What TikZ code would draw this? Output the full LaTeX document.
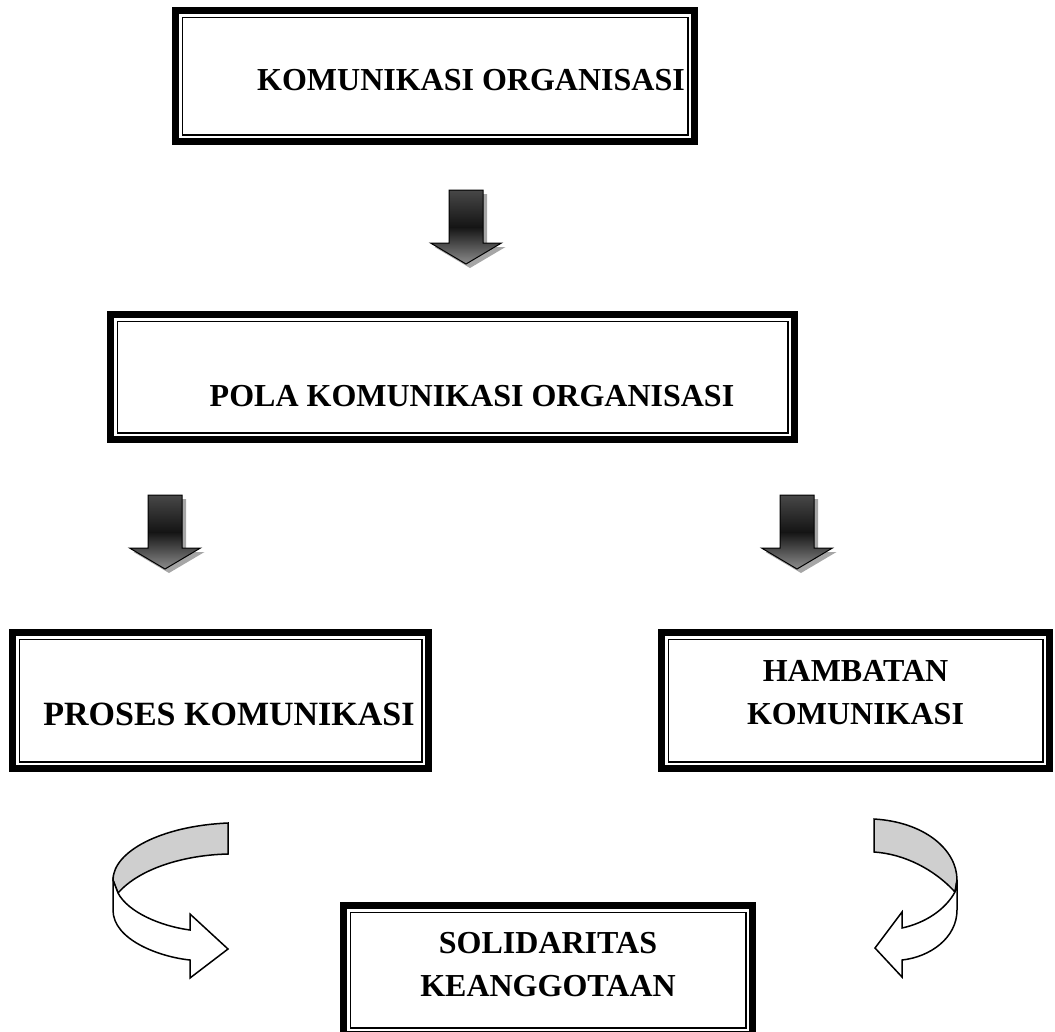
\documentclass[tikz,border=0pt]{standalone}
\usepackage{fontspec}
\setmainfont{Liberation Serif}
\usetikzlibrary{calc}
\tikzset{
  frame/.style={draw=none, inner sep=0pt,
    path picture={
      \draw[line width=7pt]
        ([xshift=3.5pt,yshift=3.5pt]path picture bounding box.south west) rectangle
        ([xshift=-3.5pt,yshift=-3.5pt]path picture bounding box.north east);
      \draw[line width=1.6pt]
        ([xshift=10.3pt,yshift=10.3pt]path picture bounding box.south west) rectangle
        ([xshift=-10.3pt,yshift=-10.3pt]path picture bounding box.north east);
    }},
  lbl/.style={font=\bfseries\fontsize{32}{43}\selectfont, align=center, inner sep=0pt},
  arrowshadow/.style={fill=black!35},
  arrowbody/.style={draw=black, line width=1pt, top color=black!72, bottom color=black!45, middle color=black!92},
  ribbonback/.style={draw=black, line width=1.5pt, fill=black!19},
  ribbonfront/.style={draw=black, line width=1.5pt, fill=white}
}
\newcommand\downblock[1]{%
  \begin{scope}[shift={#1}]
    \fill[arrowshadow] (-14,4) -- (21,4) -- (21,57) -- (39.5,57) -- (4,78) -- (-31.5,57) -- (-14,57) -- cycle;
    \path[arrowbody] (-17,0) -- (17,0) -- (17,53) -- (35.5,53) -- (0,74) -- (-35.5,53) -- (-17,53) -- cycle;
  \end{scope}}
\begin{document}
\begin{tikzpicture}[x=1pt,y=-1pt]
\useasboundingbox (0,0) rectangle (1055,1031);
\clip (0,0) rectangle (1055,1031);

% boxes
\node[frame, minimum width=526pt, minimum height=138pt] (b1) at (435,76) {};
\node[frame, minimum width=691pt, minimum height=132pt] (b2) at (452.5,377) {};
\node[frame, minimum width=423pt, minimum height=143pt] (b3) at (220.5,700.5) {};
\node[frame, minimum width=395pt, minimum height=143pt] (b4) at (855.5,700.5) {};
\node[frame, minimum width=416pt, minimum height=136pt] (b5) at (548,970) {};

% texts
\node[lbl] (t1) at (471,80) {KOMUNIKASI ORGANISASI};
\node[lbl] (t2) at (472,396.5) {POLA KOMUNIKASI ORGANISASI};
\node[lbl, font=\bfseries\fontsize{34}{43}\selectfont] (t3) at (229,714.5) {PROSES KOMUNIKASI};
\node[lbl] (t4) at (855.5,692.5) {HAMBATAN\\KOMUNIKASI};
\node[lbl] (t5) at (548,965) {SOLIDARITAS\\KEANGGOTAAN};

% block arrows
\downblock{(466,190)}
\downblock{(165,495)}
\downblock{(797,495)}

% left curved arrow
\path[ribbonback] (228,823) .. controls (160,826) and (113,852) .. (113,880)
  -- (118,893) .. controls (140,868) and (185,855) .. (228,854) -- cycle;
\path[ribbonfront] (113,880) -- (113,910) .. controls (113,940) and (160,957) .. (190,960)
  -- (190,978) -- (228,949) -- (190,914) -- (190,930)
  .. controls (160,926) and (128,912) .. (118,893) -- cycle;

% right curved arrow
\path[ribbonback] (874,819) .. controls (925,822) and (957,850) .. (957,880)
  -- (955,892) .. controls (935,870) and (905,854) .. (874,852) -- cycle;
\path[ribbonfront] (957,880) -- (957,910) .. controls (957,938) and (930,957) .. (902,960)
  -- (902,977) -- (875,948) -- (902,912) -- (902,928)
  .. controls (925,923) and (945,910) .. (955,892) -- cycle;
\end{tikzpicture}
\end{document}
